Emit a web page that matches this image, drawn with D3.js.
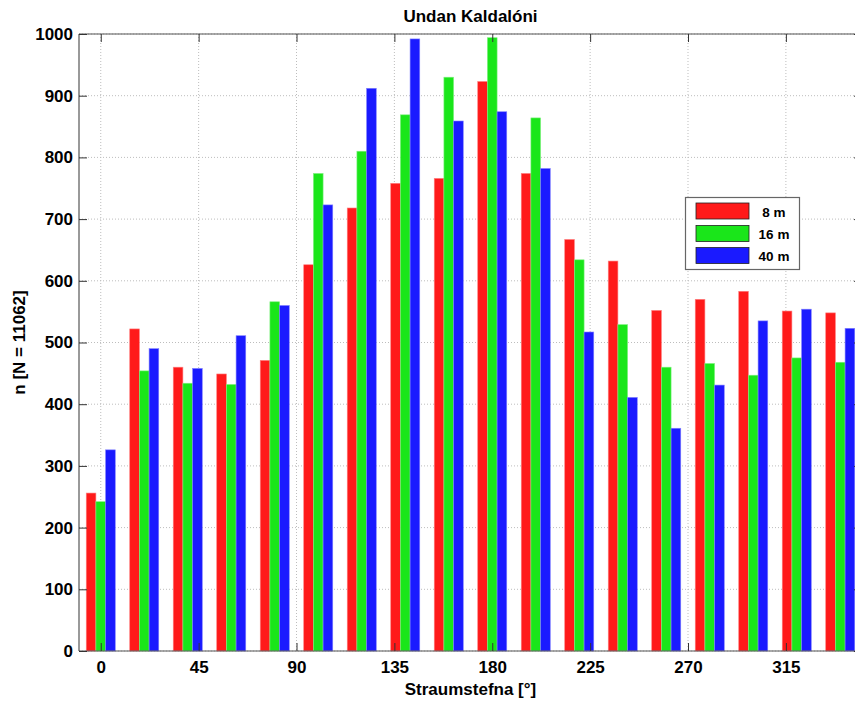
<!DOCTYPE html>
<html><head><meta charset="utf-8">
<script src="https://cdn.jsdelivr.net/npm/d3@7"></script>
<style>
html,body{margin:0;padding:0;background:#fff;overflow:hidden}
text{font-family:Arial,"Liberation Sans",sans-serif;font-weight:bold;fill:#000}
</style></head>
<body>
<script>
const directions = [0,20,40,60,80,100,120,140,160,180,200,220,240,260,280,300,320,340];
const s8m  = [256,522,460,449,471,626,718,758,766,923,774,667,632,552,570,583,551,548];
const s16m = [242,454,434,432,566,774,810,869,930,994,864,634,529,460,466,447,475,468];
const s40m = [326,490,458,511,560,723,912,992,859,874,782,517,411,361,431,535,554,523];
const seriesNames = ["8 m","16 m","40 m"];
const seriesColors = ["#ff1a1a","#1ae61a","#1a1aff"];
const edgeColors = ["#ff8080","#80f080","#8080ff"];
const xTicks = [0,45,90,135,180,225,270,315];
const yTicks = [0,100,200,300,400,500,600,700,800,900,1000];
const title = "Undan Kaldalóni";
const xLabel = "Straumstefna [°]";
const yLabel = "n [N = 11062]";

const W = 855, H = 702;
const L = 79, R = 862, T = 34, B = 651;
const svg = d3.select("body").append("svg").attr("width", W).attr("height", H);
const x = d3.scaleLinear().domain([-10,350]).range([L,R]);
const y = d3.scaleLinear().domain([0,1000]).range([B,T]);

// grid
const g = svg.append("g");
g.selectAll(".vg").data(xTicks).enter().append("line")
  .attr("x1", d=>x(d)).attr("x2", d=>x(d)).attr("y1", T).attr("y2", B)
  .attr("stroke", "#bdbdbd").attr("stroke-width", 1).attr("stroke-dasharray", "1,2");
g.selectAll(".hg").data(yTicks).enter().append("line")
  .attr("x1", L).attr("x2", R).attr("y1", d=>y(d)).attr("y2", d=>y(d))
  .attr("stroke", "#bdbdbd").attr("stroke-width", 1).attr("stroke-dasharray", "1,2");

// bars
const series = [s8m, s16m, s40m];
const bw = 4.45;
series.forEach((vals, si) => {
  const off = (si - 1) * bw;
  svg.append("g").selectAll("rect").data(directions).enter().append("rect")
    .attr("x", (d)=>x(d + off - bw/2))
    .attr("width", x(bw) - x(0))
    .attr("y", (d,i)=>y(vals[i]))
    .attr("height", (d,i)=>y(0) - y(vals[i]))
    .attr("fill", seriesColors[si])
    .attr("stroke", edgeColors[si]).attr("stroke-width", 0.6);
});

// axes frame
const axisCol = "#555";
svg.append("line").attr("x1",L).attr("x2",L).attr("y1",T).attr("y2",B).attr("stroke",axisCol).attr("stroke-width",1.2);
svg.append("line").attr("x1",R).attr("x2",R).attr("y1",T).attr("y2",B).attr("stroke",axisCol).attr("stroke-width",1.2);
svg.append("line").attr("x1",L).attr("x2",R).attr("y1",T).attr("y2",T).attr("stroke",axisCol).attr("stroke-width",1.2);
svg.append("line").attr("x1",L).attr("x2",R).attr("y1",B).attr("y2",B).attr("stroke",axisCol).attr("stroke-width",1.2);

// x ticks (inside)
const xAxisB = d3.axisBottom(x).tickValues(xTicks).tickSizeInner(-8).tickSizeOuter(0).tickPadding(10).tickFormat(d3.format("d"));
const gxb = svg.append("g").attr("transform",`translate(0,${B})`).call(xAxisB);
gxb.select(".domain").remove();
gxb.selectAll("line").attr("stroke","#333");
gxb.selectAll("text").style("font-size","17px").attr("fill","#000");
const xAxisT = d3.axisTop(x).tickValues(xTicks).tickSizeInner(-8).tickSizeOuter(0).tickFormat("");
const gxt = svg.append("g").attr("transform",`translate(0,${T})`).call(xAxisT);
gxt.select(".domain").remove();
gxt.selectAll("line").attr("stroke","#333");

// y ticks
const yAxisL = d3.axisLeft(y).tickValues(yTicks).tickSizeInner(-8).tickSizeOuter(0).tickPadding(6).tickFormat(d3.format("d"));
const gyl = svg.append("g").attr("transform",`translate(${L},0)`).call(yAxisL);
gyl.select(".domain").remove();
gyl.selectAll("line").attr("stroke","#333");
gyl.selectAll("text").style("font-size","17px").attr("fill","#000");
const yAxisR = d3.axisRight(y).tickValues(yTicks).tickSizeInner(-8).tickSizeOuter(0).tickFormat("");
const gyr = svg.append("g").attr("transform",`translate(${R},0)`).call(yAxisR);
gyr.select(".domain").remove();
gyr.selectAll("line").attr("stroke","#333");

// title and labels
svg.append("text").attr("x",(L+R)/2).attr("y",22).attr("text-anchor","middle").style("font-size","17px").text(title);
svg.append("text").attr("x",(L+R)/2).attr("y",695).attr("text-anchor","middle").style("font-size","17px").text(xLabel);
svg.append("text").attr("transform",`translate(25,${(T+B)/2}) rotate(-90)`).attr("text-anchor","middle").style("font-size","17px").text(yLabel);

// legend
const lg = svg.append("g");
lg.append("rect").attr("x",685.5).attr("y",197.5).attr("width",114).attr("height",72)
  .attr("fill","#fff").attr("stroke","#666").attr("stroke-width",1.2);
const legY = [203, 225.5, 247.5];
seriesNames.forEach((n,i)=>{
  lg.append("rect").attr("x",696).attr("y",legY[i]).attr("width",53).attr("height",16)
    .attr("fill",seriesColors[i]).attr("stroke","#222").attr("stroke-width",0.8);
  lg.append("text").attr("x",774).attr("y",legY[i]+13.5).attr("text-anchor","middle").style("font-size","13.5px").text(n);
});
</script>
</body></html>
